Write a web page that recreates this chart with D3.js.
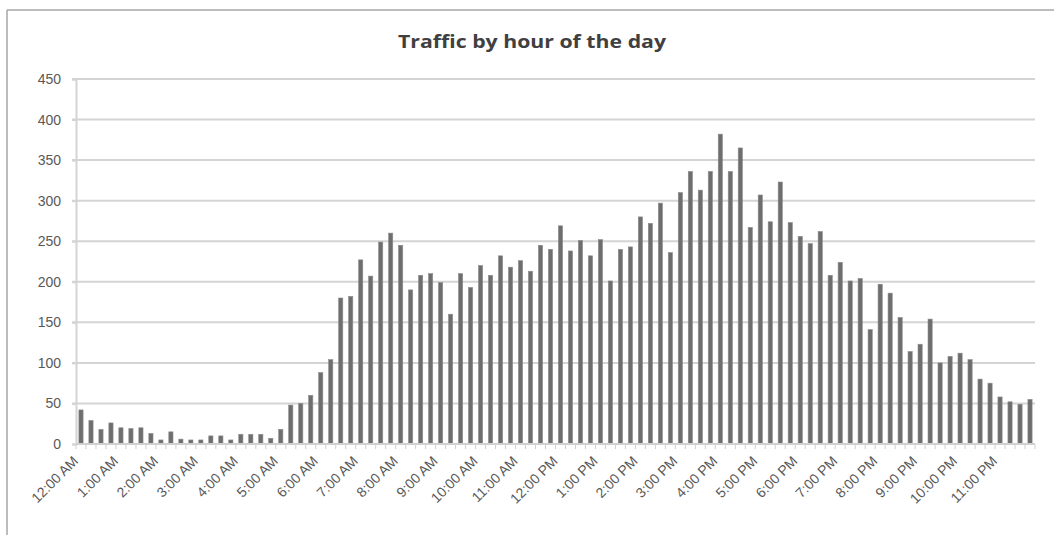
<!DOCTYPE html>
<html>
<head>
<meta charset="utf-8">
<script src="https://cdn.jsdelivr.net/npm/d3@7"></script>
<style>
  body { margin: 0; background: #fff; }
  svg { display: block; }
</style>
</head>
<body>
<svg id="chart" width="1054" height="535"></svg>
<script>
/*Chart data: 96 quarter-hour slots*/
var hourLabels = ["12:00 AM","1:00 AM","2:00 AM","3:00 AM","4:00 AM","5:00 AM",
  "6:00 AM","7:00 AM","8:00 AM","9:00 AM","10:00 AM","11:00 AM",
  "12:00 PM","1:00 PM","2:00 PM","3:00 PM","4:00 PM","5:00 PM",
  "6:00 PM","7:00 PM","8:00 PM","9:00 PM","10:00 PM","11:00 PM"];

var traffic = [
  42,29,18,26,20,19,20,13,5,15,
  6,5,5,10,10,5,12,12,12,7,
  18,48,50,60,88,104,180,182,227,207,
  249,260,245,190,208,210,199,160,210,193,
  220,208,232,218,226,213,245,240,269,238,
  251,232,252,201,240,243,280,272,297,236,
  310,336,313,336,382,336,365,267,307,274,
  323,273,256,247,262,208,224,201,204,141,
  197,186,156,114,123,154,100,108,112,104,
  80,75,58,52,49,55
];

var yTicks = [0,50,100,150,200,250,300,350,400,450];

/*Build the slots from the hours*/
var slots = [];
for (var h = 0; h < hourLabels.length; h++) {
  for (var q = 0; q < 4; q++) {
    slots.push(h * 4 + q);
  }
}

var svg = d3.select("#chart");
var margin = {left: 76, right: 19, top: 79, bottom: 91};
var width = 1054 - margin.left - margin.right,
    height = 535 - margin.top - margin.bottom;

//Outer frame (only top and left are visible in the photo)
svg.append("line").attr("x1", 7).attr("x2", 1054).attr("y1", 10).attr("y2", 10)
  .attr("stroke", "#a6a6a6").attr("stroke-width", 1.5);
svg.append("line").attr("x1", 7).attr("x2", 7).attr("y1", 10).attr("y2", 535)
  .attr("stroke", "#a6a6a6").attr("stroke-width", 1.5);

svg.append("text")
  .attr("x", 532).attr("y", 48)
  .attr("text-anchor", "middle")
  .attr("font-family", "Open Sans, sans-serif")
  .attr("font-weight", "bold")
  .attr("font-size", 17)
  .attr("fill", "#404040")
  .attr("textLength", 268)
  .attr("lengthAdjust", "spacingAndGlyphs")
  .text("Traffic by hour of the day");

var g = svg.append("g").attr("transform", "translate(" + margin.left + "," + margin.top + ")");

var x = d3.scaleBand().domain(slots).range([0, width]).paddingInner(0.58).paddingOuter(0.29);
var y = d3.scaleLinear().domain([0, 450]).range([height, 0]);

//Gridlines
g.append("g").selectAll("line").data(yTicks.filter(function(d){ return d > 0; }))
  .enter().append("line")
  .attr("x1", -4).attr("x2", width)
  .attr("y1", function(d){ return y(d); })
  .attr("y2", function(d){ return y(d); })
  .attr("stroke", "#d4d4d4").attr("stroke-width", 2);

//Y axis
var yAxis = g.append("g").call(d3.axisLeft(y).tickValues(yTicks).tickSize(4).tickPadding(11));
yAxis.select(".domain").attr("stroke", "#d4d4d4").attr("stroke-width", 2);
yAxis.selectAll(".tick line").attr("stroke", "#d4d4d4").attr("stroke-width", 2);
yAxis.selectAll("text")
  .attr("font-family", "Liberation Sans, Arial, sans-serif")
  .attr("font-size", 14)
  .attr("fill", "#595959");

//Bars
g.append("g").selectAll("rect").data(traffic)
  .enter().append("rect")
  .attr("x", function(d, i){ return x(i); })
  .attr("width", x.bandwidth())
  .attr("y", function(d){ return y(d); })
  .attr("height", function(d){ return height - y(d); })
  .attr("fill", "#6e6e6e")
  .attr("stroke", "#8c8c8c")
  .attr("stroke-width", 0.6);

//X axis line with tick marks between categories
var step = x.step();
var x0 = x(0) - x.paddingOuter() * step;
var tickPos = d3.range(slots.length + 1).map(function(i){ return x0 + i * (width / slots.length); });
g.append("line").attr("x1", 0).attr("x2", width).attr("y1", height).attr("y2", height)
  .attr("stroke", "#d0d0d0").attr("stroke-width", 2);
g.append("g").selectAll("line").data(tickPos)
  .enter().append("line")
  .attr("x1", function(d){ return d; }).attr("x2", function(d){ return d; })
  .attr("y1", height).attr("y2", height + 5)
  .attr("stroke", "#d0d0d0").attr("stroke-width", 1);

//Hour labels, one per four slots
g.append("g").selectAll("text").data(hourLabels)
  .enter().append("text")
  .attr("transform", function(d, i){
    var cx = x(i * 4) + x.bandwidth() / 2 - 2;
    return "translate(" + cx + "," + (height + 18) + ") rotate(-45)";
  })
  .attr("text-anchor", "end")
  .attr("font-family", "Liberation Sans, Arial, sans-serif")
  .attr("font-size", 14)
  .attr("fill", "#595959")
  .text(function(d){ return d; });
</script>
</body>
</html>
